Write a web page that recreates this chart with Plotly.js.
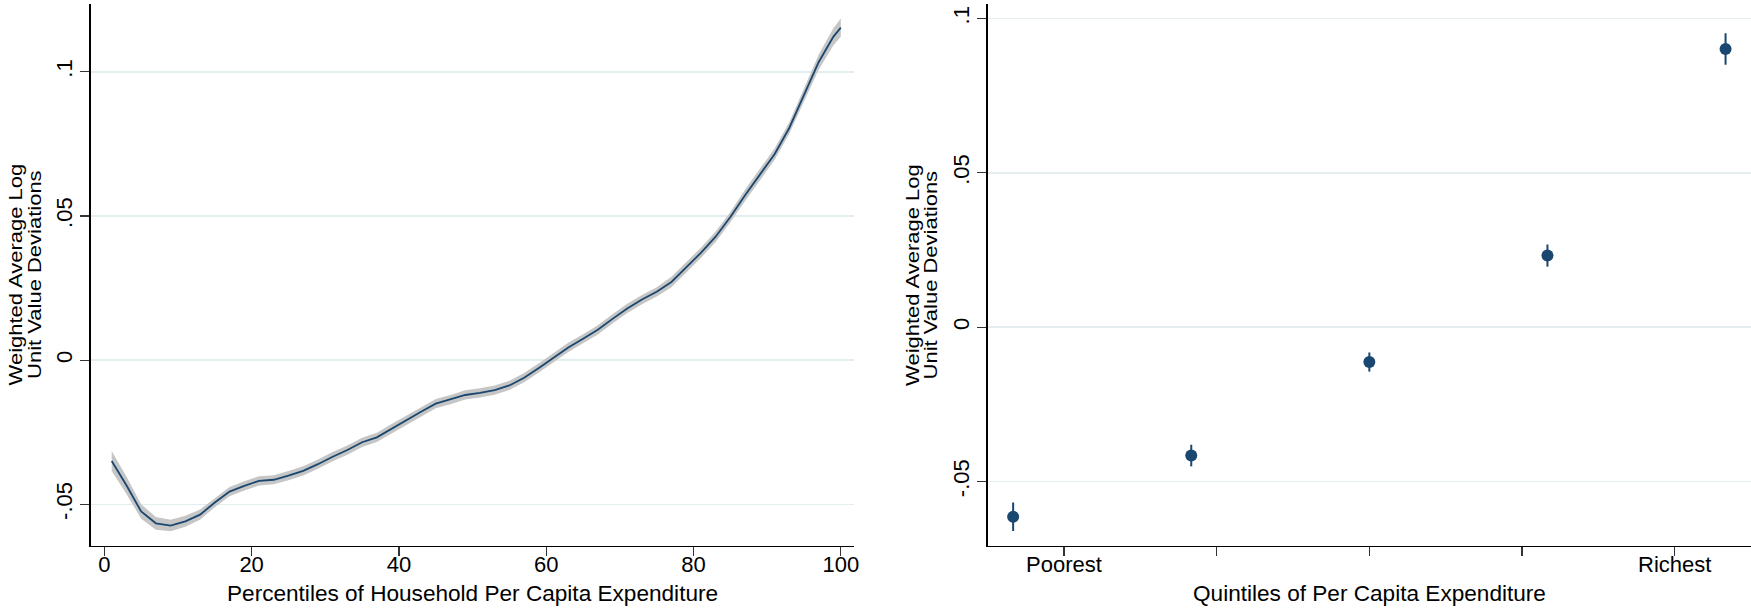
<!DOCTYPE html>
<html>
<head>
<meta charset="utf-8">
<script src="https://cdn.plot.ly/plotly-3.0.1.min.js"></script>
<style>
html,body{margin:0;padding:0;background:#fff;}
#chart{width:1751px;height:608px;}
</style>
</head>
<body>
<div id="chart"></div>
<script>
// ---- Left panel: percentiles of household per capita expenditure ----
const percentiles = [1,3,5,7,9,11,13,15,17,19,21,23,25,27,29,31,33,35,37,39,41,43,45,47,49,51,53,55,57,59,61,63,65,67,69,71,73,75,77,79,81,83,85,87,89,91,93,95,97,99,100];
const meanDev = [-0.0350,-0.0434,-0.0525,-0.0566,-0.0574,-0.0559,-0.0536,-0.0494,-0.0456,-0.0436,-0.0419,-0.0415,-0.0401,-0.0384,-0.0361,-0.0335,-0.0312,-0.0285,-0.0268,-0.0238,-0.0209,-0.0179,-0.0151,-0.0137,-0.0121,-0.0114,-0.0104,-0.0088,-0.0061,-0.0027,0.0008,0.0044,0.0074,0.0105,0.0143,0.0179,0.0210,0.0237,0.0271,0.0323,0.0372,0.0428,0.0496,0.0572,0.0644,0.0714,0.0805,0.0917,0.1034,0.1122,0.1153];
const ciHalf = [0.0035,0.0030,0.0025,0.0022,0.0020,0.0019,0.0018,0.0016,0.0016,0.0016,0.0016,0.0016,0.0016,0.0016,0.0016,0.0016,0.0016,0.0016,0.0016,0.0016,0.0016,0.0016,0.0016,0.0016,0.0016,0.0016,0.0016,0.0016,0.0016,0.0016,0.0016,0.0016,0.0016,0.0016,0.0016,0.0016,0.0016,0.0016,0.0018,0.0018,0.0018,0.0018,0.0018,0.0020,0.0020,0.0020,0.0020,0.0023,0.0026,0.0030,0.0032];
const leftXTicks = [0,20,40,60,80,100];
const leftYTicks = [-0.05,0,0.05,0.1];
const leftYTickText = ["-.05","0",".05",".1"];

// ---- Right panel: quintiles ----
const quintiles = [1,2,3,4,5];
const quintileMean = [-0.0614,-0.0416,-0.0113,0.0232,0.0901];
const quintileErr = [0.0046,0.0035,0.0031,0.0036,0.0051];
const quintileTickText = ["Poorest","","","","Richest"];
const rightYTicks = [-0.05,0,0.05,0.1];
const rightYTickText = ["-.05","0",".05",".1"];

const NAVY = '#1a476f';
const W = 1751, H = 608;
const px = v => v / W;
const py = v => 1 - v / H;

const ciLow = meanDev.map((v,i)=>v - ciHalf[i]);
const ciHigh = meanDev.map((v,i)=>v + ciHalf[i]);

const traces = [
  {x: percentiles, y: ciLow, type:'scatter', mode:'lines', line:{width:0, color:'#bdbdbd'}, hoverinfo:'skip', showlegend:false, xaxis:'x', yaxis:'y'},
  {x: percentiles, y: ciHigh, type:'scatter', mode:'lines', fill:'tonexty', fillcolor:'#c6c6c6', line:{width:0, color:'#bdbdbd'}, hoverinfo:'skip', showlegend:false, xaxis:'x', yaxis:'y'},
  {x: percentiles, y: meanDev, type:'scatter', mode:'lines', line:{width:1.8, color:NAVY}, showlegend:false, xaxis:'x', yaxis:'y'},
  {x: quintiles, y: quintileMean, type:'scatter', mode:'markers',
   marker:{size:12, color:NAVY},
   error_y:{type:'data', array: quintileErr, visible:true, color:NAVY, thickness:2, width:0},
   showlegend:false, xaxis:'x2', yaxis:'y2'}
];

const font = {family:'"Liberation Sans", Arial, sans-serif', size:22, color:'#000'};
const titleFont = {family:'"Liberation Sans", Arial, sans-serif', size:22.6, color:'#000'};

const common = {
  showline:true, linecolor:'#000', linewidth:1.3, mirror:false,
  ticks:'outside', ticklen:9, tickwidth:1.2, tickcolor:'#333',
  zeroline:false, tickfont:font
};

const layout = {
  width:W, height:H,
  margin:{l:0,r:0,t:0,b:0},
  paper_bgcolor:'#fff', plot_bgcolor:'#fff',
  showlegend:false,
  font: font,
  xaxis: Object.assign({}, common, {
    domain:[px(90.7), px(854.3)], range:[-1.85, 101.83],
    tickvals:leftXTicks, ticktext:leftXTicks.map(String), showgrid:false, anchor:'y',
    ticklabelstandoff:-10
  }),
  yaxis: Object.assign({}, common, {
    domain:[py(545.5), py(4)], range:[-0.0643, 0.1235],
    tickvals:leftYTicks, ticktext:leftYTickText, tickangle:-90,
    showgrid:true, gridcolor:'#e4eef0', gridwidth:1.5, anchor:'x'
  }),
  xaxis2: Object.assign({}, common, {
    domain:[px(987.7), 1], range:[6/7, 36/7],
    tickvals:[9/7,15/7,21/7,27/7,33/7], ticktext:quintileTickText, showgrid:false, anchor:'y2',
    ticklabelstandoff:-10
  }),
  yaxis2: Object.assign({}, common, {
    domain:[py(545.7), py(4.3)], range:[-0.0708, 0.1046],
    tickvals:rightYTicks, ticktext:rightYTickText, tickangle:-90,
    showgrid:true, gridcolor:'#e4eef0', gridwidth:1.5, anchor:'x2'
  }),
  annotations: [
    {text:'Percentiles of Household Per Capita Expenditure', xref:'paper', yref:'paper', x:px(472.5), y:py(593), xanchor:'center', yanchor:'middle', showarrow:false, font:titleFont},
    {text:'Quintiles of Per Capita Expenditure', xref:'paper', yref:'paper', x:px(1369.4), y:py(593), xanchor:'center', yanchor:'middle', showarrow:false, font:titleFont},
    {text:'Weighted Average Log', xref:'paper', yref:'paper', x:px(15.5), y:py(275), xanchor:'center', yanchor:'middle', textangle:-90, showarrow:false, font:font},
    {text:'Unit Value Deviations', xref:'paper', yref:'paper', x:px(34), y:py(275), xanchor:'center', yanchor:'middle', textangle:-90, showarrow:false, font:font},
    {text:'Weighted Average Log', xref:'paper', yref:'paper', x:px(912), y:py(275), xanchor:'center', yanchor:'middle', textangle:-90, showarrow:false, font:font},
    {text:'Unit Value Deviations', xref:'paper', yref:'paper', x:px(930.5), y:py(275), xanchor:'center', yanchor:'middle', textangle:-90, showarrow:false, font:font}
  ]
};

Plotly.newPlot('chart', traces, layout, {displayModeBar:false, staticPlot:true}).then(gd => {
  // the reference's rotated titles are drawn with condensed glyph height
  gd.querySelectorAll('.annotation').forEach((a, i) => {
    if (i >= 2) {
      const t = a.querySelector('text');
      if (t) {
        t.style.transformBox = 'fill-box';
        t.style.transformOrigin = 'center';
        t.style.transform = 'scaleY(0.86)';
      }
    }
  });
});
</script>
</body>
</html>
